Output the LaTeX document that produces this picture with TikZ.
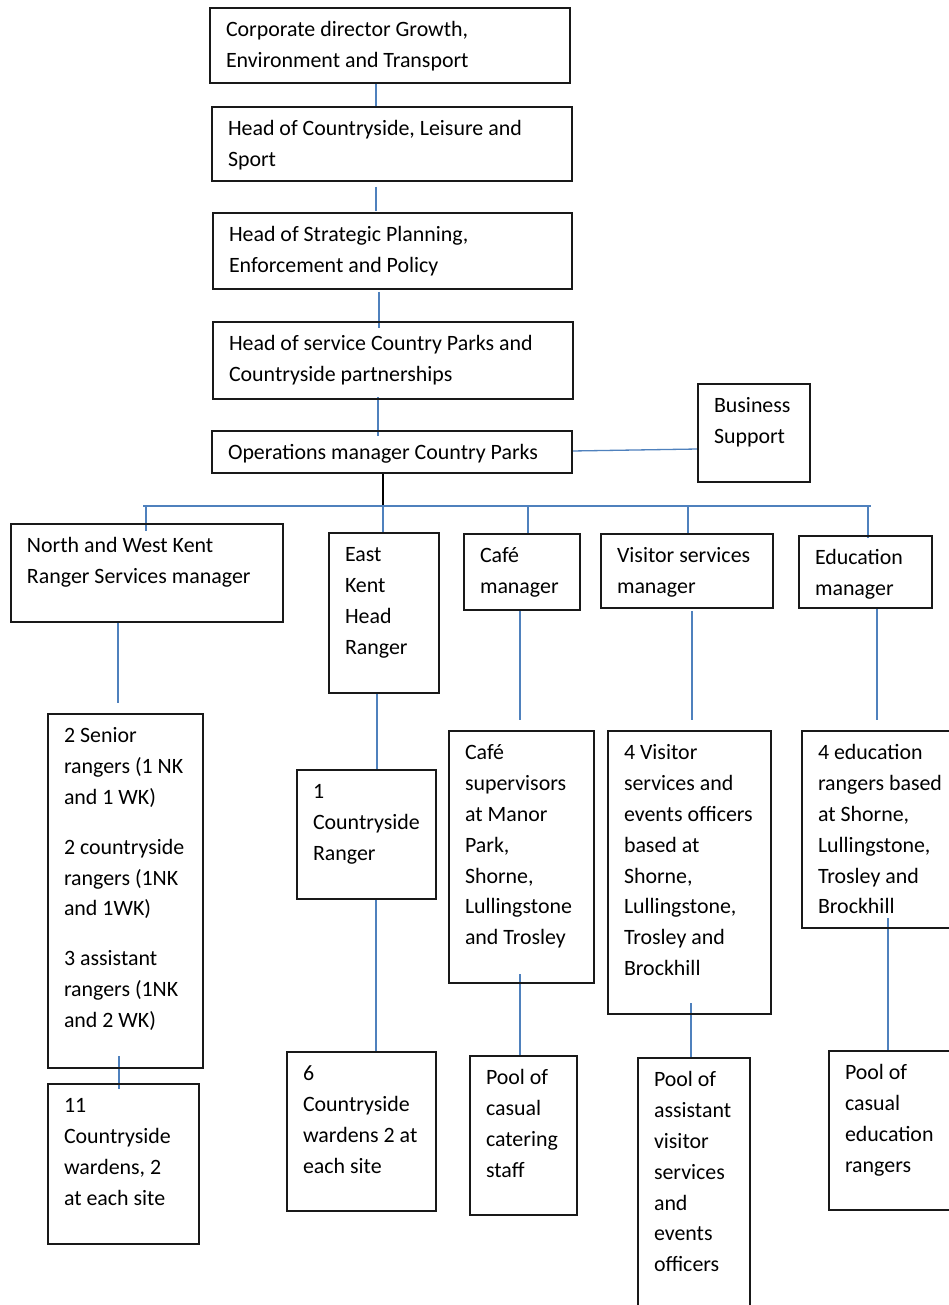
\documentclass[tikz,border=0pt]{standalone}
\usepackage{fontspec}
\setmainfont{Carlito}
\definecolor{connblue}{RGB}{79,129,189}
\tikzset{
  boxline/.style={draw=black!90, line width=1.3pt},
  conn/.style={draw=connblue, line width=1.3pt},
  connblack/.style={draw=black, line width=1.3pt},
  lbl/.style={inner sep=0pt, outer sep=0pt, anchor=north west, align=left,
              font=\fontsize{21.9pt}{30.8pt}\selectfont}
}
% name, left, top, right, bottom, text
\newcommand\orgbox[6]{%
  \draw[boxline] (#2,#3) rectangle (#4,#5);
  \node[lbl] (#1) at (#2+16,#3+7.4) {\strut #6};}
% name, x, y1, y2
\newcommand\vconn[4]{%
  \coordinate (#1a) at (#2,#3);
  \coordinate (#1b) at (#2,#4);
  \draw[conn] (#1a) -- (#1b);}
\begin{document}
\begin{tikzpicture}[x=1pt,y=-1pt]
\useasboundingbox (0,0) rectangle (949,1305);
\clip (0,0) rectangle (949,1305);
\fill[white] (0,0) rectangle (949,1305);

% connectors (drawn first)
\vconn{k1}{376}{83}{107}
\vconn{k2}{376}{187}{211}
\vconn{k3}{379}{292}{328}
\vconn{k4}{378}{397}{436}
\coordinate (opdown) at (383,473);
\coordinate (busjoin) at (383,506);
\draw[connblack] (opdown) -- (busjoin);
\coordinate (opr) at (572,451);
\coordinate (bsl) at (698,449);
\draw[conn] (opr) -- (bsl);
\coordinate (busL) at (143,506);
\coordinate (busR) at (871,506);
\draw[conn] (busL) -- (busR);
\vconn{d1}{146}{506}{531}
\vconn{d2}{383}{506}{533}
\vconn{d3}{528}{506}{535}
\vconn{d4}{688}{506}{535}
\vconn{d5}{868}{506}{538}
\vconn{n1}{118}{622}{703}
\vconn{e1}{377}{693}{770}
\vconn{e2}{376}{899}{1052}
\vconn{c1}{520}{610}{720}
\vconn{c2}{520}{974}{1056}
\vconn{v1}{692}{611}{720}
\vconn{v2}{691}{1003}{1058}
\vconn{u1}{877}{608}{720}
\vconn{u2}{888}{918}{1051}
\vconn{s1}{119}{1056}{1089}

% boxes
\orgbox{corp}{210}{8}{570}{83}{Corporate director Growth,\\Environment and Transport}
\orgbox{hcls}{212}{107}{572}{181}{Head of Countryside, Leisure and\\Sport}
\orgbox{hspe}{213}{213}{572}{289}{Head of Strategic Planning,\\Enforcement and Policy}
\orgbox{hscp}{213}{322}{573}{399}{Head of service Country Parks and\\Countryside partnerships}
\orgbox{opm}{212}{431}{572}{473}{Operations manager Country Parks}
\orgbox{bsup}{698}{384}{810}{482}{Business\\Support}

\orgbox{nwk}{11}{524}{283}{622}{North and West Kent\\Ranger Services manager}
\orgbox{ekhr}{329}{533}{439}{693}{East\\Kent\\Head\\Ranger}
\orgbox{cafm}{464}{534}{580}{610}{Café\\manager}
\orgbox{vism}{601}{534}{773}{608}{Visitor services\\manager}
\orgbox{edum}{799}{536}{932}{608}{Education\\manager}

\orgbox{senr}{48}{714}{203}{1068}{2 Senior\\rangers (1 NK\\and 1 WK)\\[19pt]2 countryside\\rangers (1NK\\and 1WK)\\[19pt]3 assistant\\rangers (1NK\\and 2 WK)}
\orgbox{ocr}{297}{770}{436}{899}{1\\Countryside\\Ranger}
\orgbox{cafs}{449}{731}{594}{983}{Café\\supervisors\\at Manor\\Park,\\Shorne,\\Lullingstone\\and Trosley}
\orgbox{viso}{608}{731}{771}{1014}{4 Visitor\\services and\\events officers\\based at\\Shorne,\\Lullingstone,\\Trosley and\\Brockhill}
\orgbox{edur}{802}{731}{960}{928}{4 education\\rangers based\\at Shorne,\\Lullingstone,\\Trosley and\\Brockhill}

\orgbox{elev}{48}{1084}{199}{1244}{11\\Countryside\\wardens, 2\\at each site}
\orgbox{six}{287}{1052}{436}{1211}{6\\Countryside\\wardens 2 at\\each site}
\orgbox{pcat}{470}{1056}{577}{1215}{Pool of\\casual\\catering\\staff}
\orgbox{pasv}{638}{1058}{750}{1320}{Pool of\\assistant\\visitor\\services\\and\\events\\officers}
\orgbox{pced}{829}{1051}{960}{1210}{Pool of\\casual\\education\\rangers}
\end{tikzpicture}
\end{document}
